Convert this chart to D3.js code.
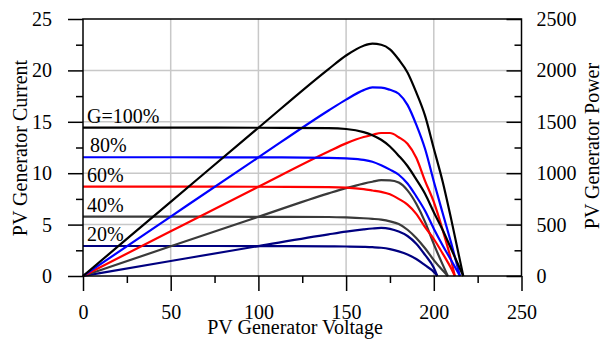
<!DOCTYPE html>
<html>
<head>
<meta charset="utf-8">
<script src="https://cdn.jsdelivr.net/npm/d3@7/dist/d3.min.js"></script>
<style>
body { margin: 0; background: #fff; }
svg text { font-family: "Liberation Serif", "DejaVu Serif", serif !important; }
</style>
</head>
<body>
<script>
// irradiance levels, one I-V and one P-V curve each
var levels = ["G=100%", "80%", "60%", "40%", "20%"];
var colors = ["#000000", "#0000ff", "#ff0000", "#3a3a3a", "#000080"];

var v100 = [0, 50, 100, 140, 150, 160, 165, 170, 175, 180, 185, 190, 195, 200, 205, 210, 216.8];
var i100 = [14.43, 14.43, 14.42, 14.38, 14.3, 14.0, 13.7, 13.25, 12.6, 11.7, 10.7, 9.4, 8.0, 6.2, 4.5, 2.6, 0];
var p100 = [0, 721, 1442, 2013, 2145, 2240, 2260, 2250, 2205, 2106, 1980, 1786, 1560, 1240, 922, 546, 0];

var v80 = [0, 50, 100, 140, 150, 160, 165, 170, 175, 180, 185, 190, 195, 200, 205, 210, 214.9];
var i80 = [11.55, 11.55, 11.54, 11.5, 11.44, 11.3, 11.12, 10.78, 10.35, 9.85, 9.0, 7.75, 6.35, 4.6, 3.0, 1.5, 0];
var p80 = [0, 578, 1154, 1610, 1716, 1808, 1835, 1833, 1811, 1773, 1665, 1473, 1238, 920, 615, 315, 0];

var v60 = [0, 50, 100, 140, 150, 160, 165, 170, 175, 180, 185, 190, 195, 200, 205, 210, 212];
var i60 = [8.69, 8.69, 8.68, 8.65, 8.6, 8.45, 8.32, 8.18, 7.95, 7.5, 6.95, 6.05, 4.75, 3.6, 2.2, 0.7, 0];
var p60 = [0, 435, 868, 1211, 1290, 1352, 1373, 1391, 1391, 1350, 1286, 1150, 926, 720, 451, 147, 0];

var v40 = [0, 50, 100, 140, 150, 160, 165, 170, 175, 180, 185, 190, 195, 200, 205, 208];
var i40 = [5.77, 5.77, 5.76, 5.74, 5.7, 5.62, 5.56, 5.48, 5.32, 5.05, 4.5, 3.7, 2.7, 1.55, 0.55, 0];
var p40 = [0, 289, 576, 804, 855, 899, 917, 932, 931, 909, 833, 703, 527, 310, 113, 0];

var v20 = [0, 50, 100, 140, 150, 160, 165, 170, 175, 180, 185, 190, 195, 200, 202];
var i20 = [2.92, 2.92, 2.91, 2.89, 2.87, 2.83, 2.8, 2.75, 2.62, 2.4, 2.1, 1.65, 1.05, 0.4, 0];
var p20 = [0, 146, 291, 405, 431, 453, 462, 468, 459, 432, 389, 314, 205, 80, 0];

var volts = [v100, v80, v60, v40, v20];
var currents = [i100, i80, i60, i40, i20];
var powers = [p100, p80, p60, p40, p20];

var xTicks = [0, 50, 100, 150, 200, 250];
var iTicks = [0, 5, 10, 15, 20, 25];
var pTicks = [0, 500, 1000, 1500, 2000, 2500];

var w = 602;
var h = 340;
var padL = 83, padR = 521.5, padT = 19, padB = 276;
var serif = "'Liberation Serif', 'DejaVu Serif', serif";

var svg = d3.select("body")
			.append("svg")
			.attr("width", w)
			.attr("height", h);

var x = d3.scaleLinear().domain([0, 250]).range([padL, padR]);
var yI = d3.scaleLinear().domain([0, 25]).range([padB, padT]);
var yP = d3.scaleLinear().domain([0, 2500]).range([padB, padT]);

// grid
svg.selectAll("line.gx")
	.data(xTicks.slice(1, -1))
	.enter()
	.append("line")
	.attr("x1", function(d){ return x(d); })
	.attr("x2", function(d){ return x(d); })
	.attr("y1", padT)
	.attr("y2", padB)
	.attr("stroke", "#c8c8c8")
	.attr("stroke-width", 1.5);

svg.selectAll("line.gy")
	.data(iTicks.slice(1, -1))
	.enter()
	.append("line")
	.attr("x1", padL)
	.attr("x2", padR)
	.attr("y1", function(d){ return yI(d); })
	.attr("y2", function(d){ return yI(d); })
	.attr("stroke", "#c8c8c8")
	.attr("stroke-width", 1.5);

// curves
var ivLine = d3.line()
	.x(function(d){ return x(d[0]); })
	.y(function(d){ return yI(d[1]); })
	.curve(d3.curveMonotoneX);
var pvLine = d3.line()
	.x(function(d){ return x(d[0]); })
	.y(function(d){ return yP(d[1]); })
	.curve(d3.curveMonotoneX);

for (var k = levels.length - 1; k >= 0; k--) {
	var iv = volts[k].map(function(v, j){ return [v, currents[k][j]]; });
	var pv = volts[k].map(function(v, j){ return [v, powers[k][j]]; });
	svg.append("path")
		.attr("d", ivLine(iv))
		.attr("fill", "none")
		.attr("stroke", colors[k])
		.attr("stroke-width", 2.2);
	svg.append("path")
		.attr("d", pvLine(pv))
		.attr("fill", "none")
		.attr("stroke", colors[k])
		.attr("stroke-width", 2.2);
}

// labels above the short-circuit currents
svg.selectAll("text.lev")
	.data(levels)
	.enter()
	.append("text")
	.attr("x", function(d, i){ return padL + (i == 1 ? 7 : 4); })
	.attr("y", function(d, i){ return yI(currents[i][0]) - 5; })
	.attr("font-size", 20)
	.style("font-family", serif)
	.text(function(d){ return d; });

// frame
svg.append("rect")
	.attr("x", padL)
	.attr("y", padT)
	.attr("width", padR - padL)
	.attr("height", padB - padT)
	.attr("fill", "none")
	.attr("stroke", "#000")
	.attr("stroke-width", 1.5);

function styleAxis(g) {
	g.attr("font-family", null);
	g.select(".domain").remove();
	g.selectAll("line").attr("stroke", "#000").attr("stroke-width", 1.5);
	g.selectAll("text").attr("font-size", 20).attr("fill", "#000")
		.style("font-family", serif);
}

var fmt = d3.format("d");

svg.append("g")
	.attr("transform", "translate(" + padL + ",0)")
	.call(d3.axisLeft(yI).tickValues(iTicks).tickFormat(fmt).tickSize(15).tickPadding(16))
	.call(styleAxis);
svg.append("g")
	.attr("transform", "translate(" + padL + ",0)")
	.call(d3.axisLeft(yI).tickValues([2.5, 7.5, 12.5, 17.5, 22.5]).tickSize(7).tickFormat(""))
	.call(styleAxis);

svg.append("g")
	.attr("transform", "translate(0," + padB + ")")
	.call(d3.axisBottom(x).tickValues(xTicks).tickFormat(fmt).tickSize(15).tickPadding(14))
	.call(styleAxis);
svg.append("g")
	.attr("transform", "translate(0," + padB + ")")
	.call(d3.axisBottom(x).tickValues([25, 75, 125, 175, 225]).tickSize(7).tickFormat(""))
	.call(styleAxis);

svg.append("g")
	.attr("transform", "translate(" + padR + ",0)")
	.call(d3.axisRight(yP).tickValues(pTicks).tickFormat(fmt).tickSize(-15).tickPadding(15))
	.call(styleAxis);
svg.append("g")
	.attr("transform", "translate(" + padR + ",0)")
	.call(d3.axisRight(yP).tickValues([250, 750, 1250, 1750, 2250]).tickSize(-7).tickFormat(""))
	.call(styleAxis);

// axis titles
svg.append("text")
	.attr("transform", "translate(27,148) rotate(-90)")
	.attr("text-anchor", "middle")
	.attr("font-size", 20)
	.style("font-family", serif)
	.text("PV Generator Current");

svg.append("text")
	.attr("transform", "translate(599,146) rotate(-90)")
	.attr("text-anchor", "middle")
	.attr("font-size", 20)
	.style("font-family", serif)
	.text("PV Generator Power");

svg.append("text")
	.attr("x", 295)
	.attr("y", 334)
	.attr("text-anchor", "middle")
	.attr("font-size", 20)
	.style("font-family", serif)
	.text("PV Generator Voltage");
</script>
</body>
</html>
